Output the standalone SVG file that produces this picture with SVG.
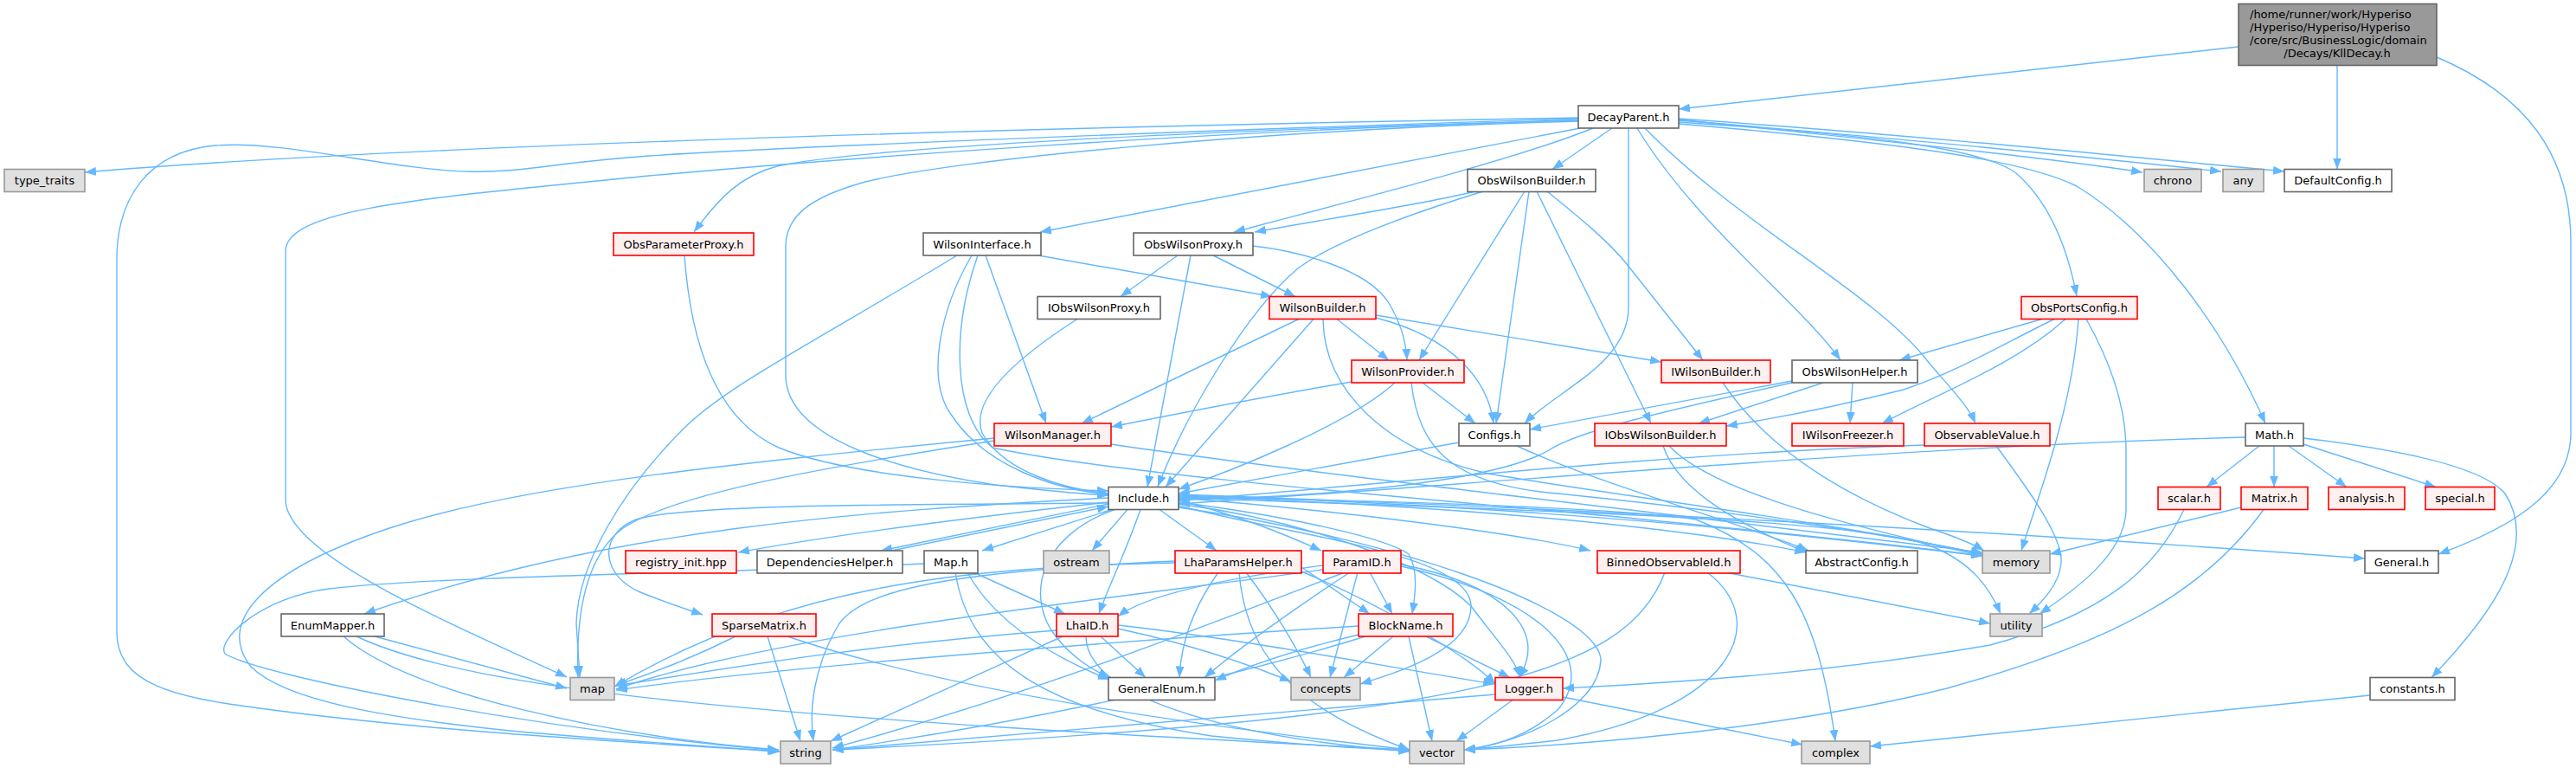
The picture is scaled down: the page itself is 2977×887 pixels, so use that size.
<svg xmlns="http://www.w3.org/2000/svg" width="2977" height="887" viewBox="0 0 2977 887">
<defs>
<marker id="ah" markerUnits="userSpaceOnUse" markerWidth="13" markerHeight="10" viewBox="0 0 13 10" refX="13" refY="5" orient="auto"><path d="M0,0 L13,5 L0,10 z" fill="#63b8ff"/></marker>
<style>
.e{fill:none;stroke:#63b8ff;stroke-width:1.4;marker-end:url(#ah)}
.nw rect{fill:#ffffff;stroke:#666666;stroke-width:1.6}
.nr rect{fill:#fff0f0;stroke:#ff0000;stroke-width:1.6}
.ns rect{fill:#e0e0e0;stroke:#999999;stroke-width:1.6}
.nm rect{fill:#999999;stroke:#666666;stroke-width:1.6}
text{font-family:"DejaVu Sans","Liberation Sans",sans-serif;font-size:13px;fill:#000000;text-anchor:middle}
text.l{text-anchor:start}
</style>
</defs>
<rect width="2977" height="887" fill="#ffffff"/>
<g id="edges">
<path class="e" d="M2587,54 L1940,126"/>
<path class="e" d="M2701,75.5 L2701,195.5"/>
<path class="e" d="M2816,66 C2920,110 2971,180 2971,280 L2971,500 C2971,570 2900,610 2818,640"/>
<path class="e" d="M1824,136 C1300,145 500,165 98,199"/>
<path class="e" d="M1824,137 C1400,150 900,170 750,180 C640,188 600,200 541,198 C450,196 330,162 249,168 C170,175 135,230 135,300 L135,730 C135,790 200,805 300,818 C500,845 700,855 900,868"/>
<path class="e" d="M1824,139 C1400,150 950,185 750,203 C500,228 330,240 330,290 L330,577 C330,640 520,720 655,782"/>
<path class="e" d="M1824,139 C1400,150 1000,170 898,192 C855,203 830,230 802,268"/>
<path class="e" d="M1824,140 C1450,150 1100,185 1000,210 C935,228 908,250 908,285 L908,433 C908,510 1050,545 1150,560 C1220,568 1260,571 1281,572"/>
<path class="e" d="M1826,148 L1202,268"/>
<path class="e" d="M1841,148 C1750,185 1550,235 1426,268"/>
<path class="e" d="M1863,148 L1794,195.5"/>
<path class="e" d="M1882,148 L1882,355 C1882,420 1800,450 1762,489"/>
<path class="e" d="M1892,148 C1960,260 2080,350 2127,416"/>
<path class="e" d="M1901,148 C2010,260 2170,340 2230,420 C2260,455 2275,470 2283,489"/>
<path class="e" d="M1940,138 C2150,160 2350,180 2476,199"/>
<path class="e" d="M1940,139 C2200,160 2400,180 2567,198"/>
<path class="e" d="M1940,137 C2200,155 2450,180 2640,198"/>
<path class="e" d="M1940,141 C2150,155 2290,170 2330,200 C2370,235 2390,290 2400,342"/>
<path class="e" d="M1940,143 C2200,165 2340,185 2400,215 C2490,270 2570,380 2618,489"/>
<path class="e" d="M1705,221 C1650,235 1520,255 1450,268"/>
<path class="e" d="M1714,221 C1620,250 1540,280 1500,310 C1440,360 1370,480 1338,562"/>
<path class="e" d="M1762,221 L1640,416"/>
<path class="e" d="M1767,221 L1729,489"/>
<path class="e" d="M1776,221 L1908,489"/>
<path class="e" d="M1788,221 C1830,255 1860,280 1880,305 L1968,416"/>
<path class="e" d="M791,295 C800,420 840,490 900,517 C980,550 1150,563 1281,567"/>
<path class="e" d="M1106,295 C950,390 840,445 790,495 C720,565 668,650 666,720 L670,782"/>
<path class="e" d="M1123,295 C1085,360 1070,440 1100,480 C1140,540 1220,565 1281,571"/>
<path class="e" d="M1130,295 C1100,380 1100,480 1147,517 C1300,550 1700,580 1900,600 C2100,620 2200,630 2291,642"/>
<path class="e" d="M1139,295 L1209,489"/>
<path class="e" d="M1200,295 L1470,342.5"/>
<path class="e" d="M1361,295 L1295,342.5"/>
<path class="e" d="M1376,295 L1326,562.5"/>
<path class="e" d="M1448,284 C1500,290 1580,310 1605,350 C1620,375 1625,395 1626,416"/>
<path class="e" d="M1402,295 L1497,342.5"/>
<path class="e" d="M1245,368.5 C1180,410 1120,460 1135,500 C1160,545 1230,565 1281,570"/>
<path class="e" d="M1501,368.5 L1250,489"/>
<path class="e" d="M1518,368.5 L1347,562.5"/>
<path class="e" d="M1545,368.5 L1605,416"/>
<path class="e" d="M1529,368.5 C1530,450 1600,520 1720,547 C1850,570 2100,600 2291,640"/>
<path class="e" d="M1590,367 C1680,390 1720,440 1726,489"/>
<path class="e" d="M1590,364 L1920,418"/>
<path class="e" d="M1562,441 C1450,460 1350,480 1284,493"/>
<path class="e" d="M1612,442 C1560,490 1420,545 1362,565"/>
<path class="e" d="M1644,442 L1705,489"/>
<path class="e" d="M1631,442 C1640,520 1680,560 1800,570 C2000,590 2200,620 2291,640"/>
<path class="e" d="M1149,506 C850,535 600,560 450,610 C300,660 250,720 290,770 C330,810 450,830 600,845 C750,858 850,864 902,868"/>
<path class="e" d="M1149,509 C950,540 780,570 720,610 C680,640 665,700 668,782"/>
<path class="e" d="M1284,513 C1500,545 1900,590 2291,638"/>
<path class="e" d="M1686,511 C1550,535 1420,560 1362,570"/>
<path class="e" d="M1753,515 C1850,560 2000,600 2090,636"/>
<path class="e" d="M2071,440 L1768,496"/>
<path class="e" d="M2071,442 C1900,480 1820,500 1790,520 C1720,560 1500,575 1362,577"/>
<path class="e" d="M2107,442 L1963,489"/>
<path class="e" d="M2141,442 L2138,489"/>
<path class="e" d="M2360,368.5 L2195,416"/>
<path class="e" d="M2374,368.5 C2310,400 2260,430 2200,450 C2100,475 2040,485 1995,492"/>
<path class="e" d="M2387,368.5 C2330,420 2250,450 2175,489"/>
<path class="e" d="M2402,368.5 C2395,470 2360,560 2336,636"/>
<path class="e" d="M2411,368.5 C2440,420 2457,470 2457,520 L2457,590 C2455,640 2400,680 2357,709"/>
<path class="e" d="M2224,514 C1900,525 1600,560 1362,578"/>
<path class="e" d="M2307,515 C2340,560 2385,620 2382,650 C2380,675 2360,695 2345,709"/>
<path class="e" d="M2595,505 C2200,515 1700,560 1362,582"/>
<path class="e" d="M2611,515 L2550,562.5"/>
<path class="e" d="M2628,515 L2628,562.5"/>
<path class="e" d="M2645,515 L2712,562.5"/>
<path class="e" d="M2662,513 L2815,562.5"/>
<path class="e" d="M2662,506 C2780,520 2870,540 2895,570 C2940,640 2860,730 2810,782.5"/>
<path class="e" d="M2524,588.5 C2490,660 2430,710 2300,745 C2100,780 1900,790 1806,795"/>
<path class="e" d="M2590,586 L2369,640"/>
<path class="e" d="M2616,588.5 C2550,680 2450,740 2250,795 C2050,845 1800,862 1692,866"/>
<path class="e" d="M2739,803 L2161,862"/>
<path class="e" d="M1991,442 C2050,530 2150,580 2230,610 C2260,620 2280,628 2293,636"/>
<path class="e" d="M1922,515 C1940,570 2020,610 2088,638"/>
<path class="e" d="M1929,515 C1980,570 2150,610 2291,642"/>
<path class="e" d="M1281,580 C1100,600 950,620 853,638"/>
<path class="e" d="M1281,582 L1018,636"/>
<path class="e" d="M1030,636 L1281,585"/>
<path class="e" d="M1285,588.5 L1135,636"/>
<path class="e" d="M1303,588.5 L1262,636"/>
<path class="e" d="M1318,588.5 C1300,640 1280,680 1270,709"/>
<path class="e" d="M1340,588.5 L1406,636"/>
<path class="e" d="M1288,588.5 C1200,620 1185,690 1220,735 C1240,760 1260,772 1282,783"/>
<path class="e" d="M1281,575 C1000,590 700,610 421,709"/>
<path class="e" d="M1281,581 C1000,583 790,583 735,600 C690,618 695,665 740,684 C770,696 795,704 812,710"/>
<path class="e" d="M1362,578 C1430,595 1480,615 1527,636"/>
<path class="e" d="M1362,575 C1550,590 1750,615 1838,636"/>
<path class="e" d="M1362,573 C1700,585 1950,610 2087,638"/>
<path class="e" d="M1362,572 C1800,585 2100,620 2291,642"/>
<path class="e" d="M1362,571 C1900,590 2400,620 2733,645"/>
<path class="e" d="M1362,580 C1480,595 1600,620 1628,640 C1640,660 1635,690 1632,709"/>
<path class="e" d="M1362,582 C1500,600 1650,650 1700,700 C1730,740 1750,760 1757,782.5"/>
<path class="e" d="M1362,584 C1500,620 1700,640 1700,700 C1700,750 1620,775 1572,790"/>
<path class="e" d="M1362,586 C1600,620 1840,700 1850,760 C1850,820 1750,860 1692,866"/>
<path class="e" d="M1362,574 C1700,580 1900,590 1960,600 C2060,640 2100,700 2121,856"/>
<path class="e" d="M1362,575 C1800,590 2150,600 2230,630 C2280,650 2300,680 2312,709"/>
<path class="e" d="M1358,650 C1100,655 900,680 710,793"/>
<path class="e" d="M1358,648 C1100,660 1000,680 970,720 C940,770 935,820 940,856"/>
<path class="e" d="M1408,661 C1380,700 1365,740 1363,782.5"/>
<path class="e" d="M1432,661 C1440,760 1500,820 1629,866"/>
<path class="e" d="M1504,655 L1583,709"/>
<path class="e" d="M1504,660 C1600,700 1700,760 1728,790"/>
<path class="e" d="M1440,661 C1470,700 1500,750 1515,782.5"/>
<path class="e" d="M1529,653 C1400,670 1320,690 1292,712"/>
<path class="e" d="M1583,661 L1609,709"/>
<path class="e" d="M1569,661 L1537,782.5"/>
<path class="e" d="M1619,652 C1740,675 1790,730 1755,782.5"/>
<path class="e" d="M1619,654 C1780,690 1850,760 1800,820 C1760,855 1720,862 1692,866"/>
<path class="e" d="M1554,661 C1400,720 1200,800 962,864"/>
<path class="e" d="M1529,658 C1300,690 900,730 712,796"/>
<path class="e" d="M1560,661 C1500,700 1430,750 1392,782.5"/>
<path class="e" d="M1610,735 L1553,782.5"/>
<path class="e" d="M1628,735 L1655,856"/>
<path class="e" d="M1648,735 L1745,782.5"/>
<path class="e" d="M1570,733 C1500,750 1440,770 1404,786"/>
<path class="e" d="M1578,735 C1400,790 1150,840 962,866"/>
<path class="e" d="M1570,723 C1300,740 900,770 712,797"/>
<path class="e" d="M1221,728 C1000,745 850,770 712,792"/>
<path class="e" d="M1228,735 L960,856"/>
<path class="e" d="M1255,735 C1255,800 1400,850 1629,868"/>
<path class="e" d="M1272,735 L1324,782.5"/>
<path class="e" d="M1292,726 C1380,745 1450,770 1492,787"/>
<path class="e" d="M1292,722 C1450,740 1600,770 1727,790"/>
<path class="e" d="M1068,651 C900,660 500,665 380,680 C300,690 250,740 260,755 C300,780 600,840 900,867"/>
<path class="e" d="M1104,661 C1120,760 1200,820 1400,850 C1500,860 1580,865 1629,867"/>
<path class="e" d="M1118,661 C1150,720 1220,760 1282,785"/>
<path class="e" d="M1125,661 L1231,709"/>
<path class="e" d="M850,735 C800,760 760,775 711,792"/>
<path class="e" d="M887,735 L925,856"/>
<path class="e" d="M910,735 C1100,800 1400,840 1629,866"/>
<path class="e" d="M433,735 L655,795"/>
<path class="e" d="M397,735 C470,800 700,850 900,866"/>
<path class="e" d="M412,735 C550,800 900,830 1629,866"/>
<path class="e" d="M1728,802 C1400,830 1100,855 962,866"/>
<path class="e" d="M1748,808.5 L1683,856"/>
<path class="e" d="M1806,805 L2083,860"/>
<path class="e" d="M1924,661 C1880,780 1700,830 962,866"/>
<path class="e" d="M1973,661 C2050,720 2000,820 1800,855 C1740,862 1700,865 1692,866"/>
<path class="e" d="M1994,661 L2300,720"/>
</g>
<g id="node-main" class="nm"><rect x="2587" y="4.5" width="229" height="71"/><text class="l" x="2600" y="21">/home/runner/work/Hyperiso</text><text class="l" x="2600" y="36">/Hyperiso/Hyperiso/Hyperiso</text><text class="l" x="2600" y="51">/core/src/BusinessLogic/domain</text><text x="2701" y="66">/Decays/KllDecay.h</text></g>
<g id="node-DecayParent" class="nw"><rect x="1824" y="122" width="116" height="26"/><text x="1882" y="139.5">DecayParent.h</text></g>
<g id="node-type_traits" class="ns"><rect x="5" y="195.5" width="93" height="26"/><text x="51.5" y="213">type_traits</text></g>
<g id="node-ObsWilsonBuilder" class="nw"><rect x="1696" y="195.5" width="148" height="26"/><text x="1770" y="213">ObsWilsonBuilder.h</text></g>
<g id="node-chrono" class="ns"><rect x="2478" y="195.5" width="66" height="26"/><text x="2511" y="213">chrono</text></g>
<g id="node-any" class="ns"><rect x="2569" y="195.5" width="47" height="26"/><text x="2592.5" y="213">any</text></g>
<g id="node-DefaultConfig" class="nw"><rect x="2640" y="195.5" width="124" height="26"/><text x="2702" y="213">DefaultConfig.h</text></g>
<g id="node-ObsParameterProxy" class="nr"><rect x="709" y="269" width="162" height="26"/><text x="790" y="286.5">ObsParameterProxy.h</text></g>
<g id="node-WilsonInterface" class="nw"><rect x="1067" y="269" width="136" height="26"/><text x="1135" y="286.5">WilsonInterface.h</text></g>
<g id="node-ObsWilsonProxy" class="nw"><rect x="1310" y="269" width="138" height="26"/><text x="1379" y="286.5">ObsWilsonProxy.h</text></g>
<g id="node-IObsWilsonProxy" class="nw"><rect x="1199" y="342.5" width="142" height="26"/><text x="1270" y="360">IObsWilsonProxy.h</text></g>
<g id="node-WilsonBuilder" class="nr"><rect x="1467" y="342.5" width="123" height="26"/><text x="1528.5" y="360">WilsonBuilder.h</text></g>
<g id="node-ObsPortsConfig" class="nr"><rect x="2336" y="342.5" width="134" height="26"/><text x="2403" y="360">ObsPortsConfig.h</text></g>
<g id="node-WilsonProvider" class="nr"><rect x="1562" y="416" width="130" height="26"/><text x="1627" y="433.5">WilsonProvider.h</text></g>
<g id="node-IWilsonBuilder" class="nr"><rect x="1920" y="416" width="126" height="26"/><text x="1983" y="433.5">IWilsonBuilder.h</text></g>
<g id="node-ObsWilsonHelper" class="nw"><rect x="2071" y="416" width="145" height="26"/><text x="2143.5" y="433.5">ObsWilsonHelper.h</text></g>
<g id="node-WilsonManager" class="nr"><rect x="1149" y="489" width="135" height="26"/><text x="1216.5" y="506.5">WilsonManager.h</text></g>
<g id="node-Configs" class="nw"><rect x="1686" y="489" width="82" height="26"/><text x="1727" y="506.5">Configs.h</text></g>
<g id="node-IObsWilsonBuilder" class="nr"><rect x="1843" y="489" width="152" height="26"/><text x="1919" y="506.5">IObsWilsonBuilder.h</text></g>
<g id="node-IWilsonFreezer" class="nr"><rect x="2071" y="489" width="129" height="26"/><text x="2135.5" y="506.5">IWilsonFreezer.h</text></g>
<g id="node-ObservableValue" class="nr"><rect x="2224" y="489" width="145" height="26"/><text x="2296.5" y="506.5">ObservableValue.h</text></g>
<g id="node-Math" class="nw"><rect x="2595" y="489" width="67" height="26"/><text x="2628.5" y="506.5">Math.h</text></g>
<g id="node-Include" class="nw"><rect x="1281" y="562.5" width="81" height="26"/><text x="1321.5" y="580">Include.h</text></g>
<g id="node-scalar" class="nr"><rect x="2494" y="562.5" width="72" height="26"/><text x="2530" y="580">scalar.h</text></g>
<g id="node-Matrix" class="nr"><rect x="2590" y="562.5" width="77" height="26"/><text x="2628.5" y="580">Matrix.h</text></g>
<g id="node-analysis" class="nr"><rect x="2691" y="562.5" width="88" height="26"/><text x="2735" y="580">analysis.h</text></g>
<g id="node-special" class="nr"><rect x="2803" y="562.5" width="80" height="26"/><text x="2843" y="580">special.h</text></g>
<g id="node-registry_init" class="nr"><rect x="723" y="636" width="128" height="26"/><text x="787" y="653.5">registry_init.hpp</text></g>
<g id="node-DependenciesHelper" class="nw"><rect x="875" y="636" width="168" height="26"/><text x="959" y="653.5">DependenciesHelper.h</text></g>
<g id="node-Map" class="nw"><rect x="1068" y="636" width="62" height="26"/><text x="1099" y="653.5">Map.h</text></g>
<g id="node-ostream" class="ns"><rect x="1206" y="636" width="76" height="26"/><text x="1244" y="653.5">ostream</text></g>
<g id="node-LhaParamsHelper" class="nr"><rect x="1358" y="636" width="146" height="26"/><text x="1431" y="653.5">LhaParamsHelper.h</text></g>
<g id="node-ParamID" class="nr"><rect x="1529" y="636" width="90" height="26"/><text x="1574" y="653.5">ParamID.h</text></g>
<g id="node-BinnedObservableId" class="nr"><rect x="1846" y="636" width="165" height="26"/><text x="1928.5" y="653.5">BinnedObservableId.h</text></g>
<g id="node-AbstractConfig" class="nw"><rect x="2087" y="636" width="129" height="26"/><text x="2151.5" y="653.5">AbstractConfig.h</text></g>
<g id="node-memory" class="ns"><rect x="2291" y="636" width="78" height="26"/><text x="2330" y="653.5">memory</text></g>
<g id="node-General" class="nw"><rect x="2733" y="636" width="85" height="26"/><text x="2775.5" y="653.5">General.h</text></g>
<g id="node-EnumMapper" class="nw"><rect x="325" y="709" width="119" height="26"/><text x="384.5" y="726.5">EnumMapper.h</text></g>
<g id="node-SparseMatrix" class="nr"><rect x="823" y="709" width="120" height="26"/><text x="883" y="726.5">SparseMatrix.h</text></g>
<g id="node-LhaID" class="nr"><rect x="1221" y="709" width="71" height="26"/><text x="1256.5" y="726.5">LhaID.h</text></g>
<g id="node-BlockName" class="nr"><rect x="1570" y="709" width="109" height="26"/><text x="1624.5" y="726.5">BlockName.h</text></g>
<g id="node-utility" class="ns"><rect x="2300" y="709" width="60" height="26"/><text x="2330" y="726.5">utility</text></g>
<g id="node-map" class="ns"><rect x="659" y="782.5" width="51" height="26"/><text x="684.5" y="800">map</text></g>
<g id="node-GeneralEnum" class="nw"><rect x="1281" y="782.5" width="123" height="26"/><text x="1342.5" y="800">GeneralEnum.h</text></g>
<g id="node-concepts" class="ns"><rect x="1492" y="782.5" width="80" height="26"/><text x="1532" y="800">concepts</text></g>
<g id="node-Logger" class="nr"><rect x="1728" y="782.5" width="78" height="26"/><text x="1767" y="800">Logger.h</text></g>
<g id="node-constants" class="nw"><rect x="2739" y="782.5" width="98" height="26"/><text x="2788" y="800">constants.h</text></g>
<g id="node-string" class="ns"><rect x="902" y="856" width="58" height="26"/><text x="931" y="873.5">string</text></g>
<g id="node-vector" class="ns"><rect x="1629" y="856" width="63" height="26"/><text x="1660.5" y="873.5">vector</text></g>
<g id="node-complex" class="ns"><rect x="2082" y="856" width="79" height="26"/><text x="2121.5" y="873.5">complex</text></g>
</svg>
